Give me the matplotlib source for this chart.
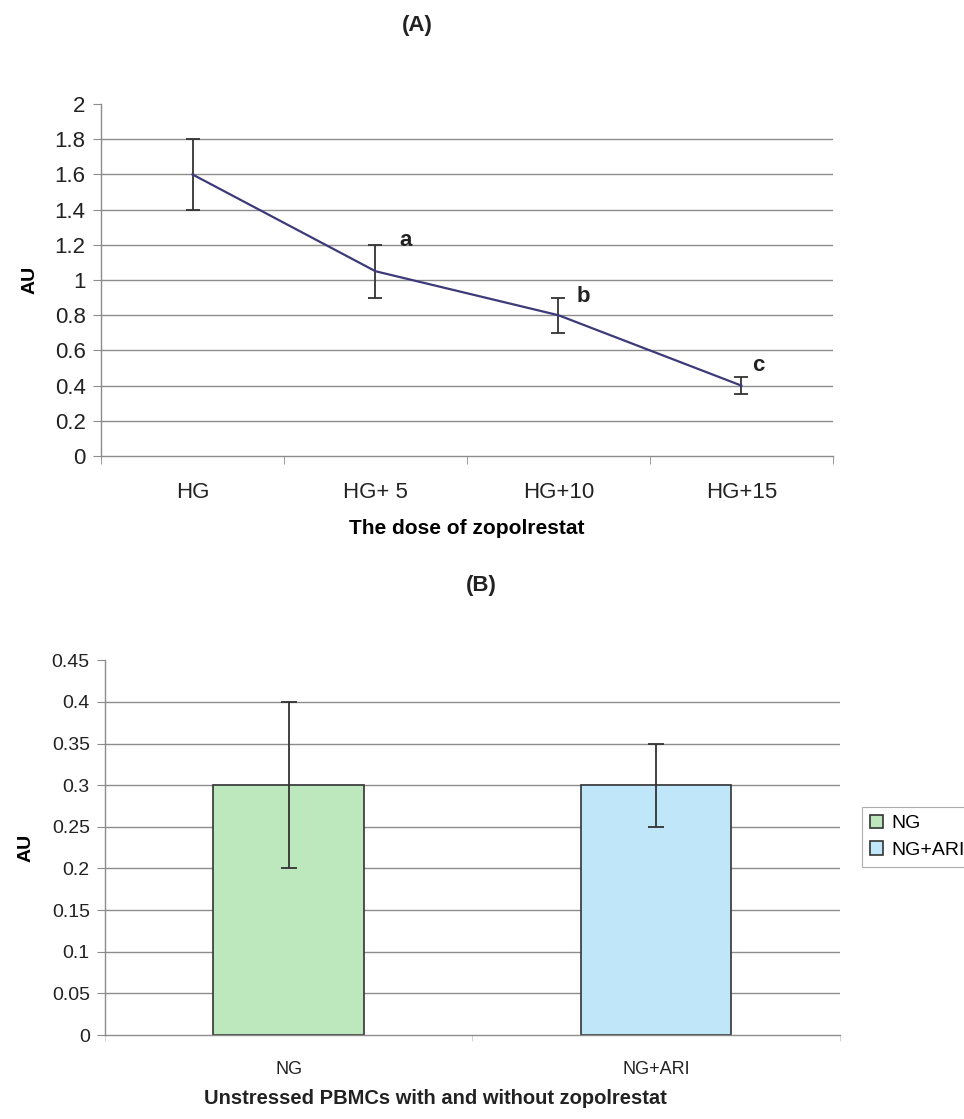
import matplotlib
matplotlib.use("Agg")
import matplotlib.pyplot as plt
import numpy as np

plt.rcParams['font.family'] = ['Liberation Sans', 'DejaVu Sans']

# ---- data (A) ----
doses = ["HG", "HG+ 5", "HG+10", "HG+15"]
au_values = [1.6, 1.05, 0.8, 0.4]
au_errors = [0.2, 0.15, 0.1, 0.05]
sig_letters = ["", "a", "b", "c"]
y_ticks_a = [0, 0.2, 0.4, 0.6, 0.8, 1, 1.2, 1.4, 1.6, 1.8, 2]

# ---- data (B) ----
groups = ["NG", "NG+ARI"]
bar_values = [0.3, 0.3]
bar_errors = [0.1, 0.05]
y_ticks_b = [0, 0.05, 0.1, 0.15, 0.2, 0.25, 0.3, 0.35, 0.4, 0.45]

# styling
LINE_COLOR = "#3c3a78"
BAR_COLORS = ["#bde8bd", "#bfe7f9"]
GRID_COLOR = "#8c8c8c"
TEXT_COLOR = "#222222"
LETTER_OFFSETS = [(0, 0), (17, 3), (13, 1), (8, 8)]

fig = plt.figure(figsize=(9.64, 11.19), dpi=100)
fig.patch.set_facecolor("white")

def style_axes(ax, ymax, yticks, fs):
    for s in ["top", "right"]:
        ax.spines[s].set_visible(False)
    ax.spines["left"].set_color(GRID_COLOR)
    ax.spines["bottom"].set_color(GRID_COLOR)
    ax.spines["left"].set_linewidth(1.0)
    ax.spines["bottom"].set_linewidth(1.0)
    ax.set_ylim(0, ymax)
    ax.set_yticks(yticks)
    ax.set_yticklabels([f"{t:g}" for t in yticks])
    ax.tick_params(axis="y", direction="out", length=6, color=GRID_COLOR,
                   labelsize=fs, pad=5, labelcolor=TEXT_COLOR)
    ax.yaxis.grid(True, color=GRID_COLOR, linewidth=1.0)
    ax.set_axisbelow(True)
    gl = ax.get_ygridlines()
    gl[-1].set_visible(False)
    gl[0].set_visible(False)

# ---- (A) ----
axA = fig.add_axes([0.1048, 0.5925, 0.864 - 0.1048, 0.907 - 0.5925])
xA = np.arange(len(doses))
axA.errorbar(xA, au_values, yerr=au_errors, color=LINE_COLOR, linewidth=1.6,
             ecolor="#333333", elinewidth=1.3, capsize=5, capthick=1.3, zorder=3)
style_axes(axA, 2, y_ticks_a, 16)
axA.set_xlim(-0.5, len(doses) - 0.5)
axA.set_xticks(xA)
axA.set_xticklabels(doses, fontsize=16, color=TEXT_COLOR)
axA.set_xticks(np.arange(len(doses) + 1) - 0.5, minor=True)
axA.tick_params(axis="x", which="major", length=0, pad=19)
axA.tick_params(axis="x", which="minor", length=6, color=GRID_COLOR, direction="out")
for x, v, e, lab, off in zip(xA, au_values, au_errors, sig_letters, LETTER_OFFSETS):
    if lab:
        axA.annotate(lab, (x, v + e), xytext=off, textcoords="offset points",
                     ha="left", va="center", fontsize=16, fontweight="bold",
                     color=TEXT_COLOR)
axA.set_ylabel("AU", fontsize=14, fontweight="bold", labelpad=12)
axA.set_xlabel("The dose of zopolrestat", fontsize=15, fontweight="bold", labelpad=11)
fig.text(0.433, 0.977, "(A)", ha="center", va="center", fontsize=16, fontweight="bold",
         color=TEXT_COLOR)

# ---- (B) ----
axB = fig.add_axes([0.109, 0.075, 0.871 - 0.109, 0.410 - 0.075])
xB = np.arange(len(groups))
bars = axB.bar(xB, bar_values, width=0.41, color=BAR_COLORS, edgecolor="#333333",
               linewidth=1.2, label=groups, zorder=2)
axB.errorbar(xB, bar_values, yerr=bar_errors, fmt="none", ecolor="#333333",
             elinewidth=1.3, capsize=6, capthick=1.3, zorder=3)
style_axes(axB, 0.45, y_ticks_b, 14)
axB.set_xlim(-0.5, len(groups) - 0.5)
axB.set_xticks(xB)
axB.set_xticklabels(groups, fontsize=13, color=TEXT_COLOR)
axB.set_xticks(np.arange(len(groups) + 1) - 0.5, minor=True)
axB.tick_params(axis="x", which="major", length=0, pad=19)
axB.tick_params(axis="x", which="minor", length=4, color="#cccccc", direction="out")
axB.set_ylabel("AU", fontsize=14, fontweight="bold", labelpad=12)
fig.text(435 / 964, 1 - 1099 / 1119, "Unstressed PBMCs with and without zopolrestat",
         ha="center", va="center", fontsize=14.5, fontweight="bold", color=TEXT_COLOR)
fig.text(481 / 964, 1 - 585 / 1119, "(B)", ha="center", va="center", fontsize=16,
         fontweight="bold", color=TEXT_COLOR)

leg = fig.legend(handles=list(bars), labels=groups, loc="upper left",
                 bbox_to_anchor=(862 / 964, 1 - 807 / 1119), frameon=True, fancybox=False,
                 edgecolor="#999999", fontsize=14, handlelength=0.7, handleheight=0.7,
                 handletextpad=0.4, labelspacing=0.45, borderpad=0.4,
                 borderaxespad=0)
leg.get_frame().set_linewidth(0.8)

fig.savefig("out.png", dpi=100, facecolor="white")
